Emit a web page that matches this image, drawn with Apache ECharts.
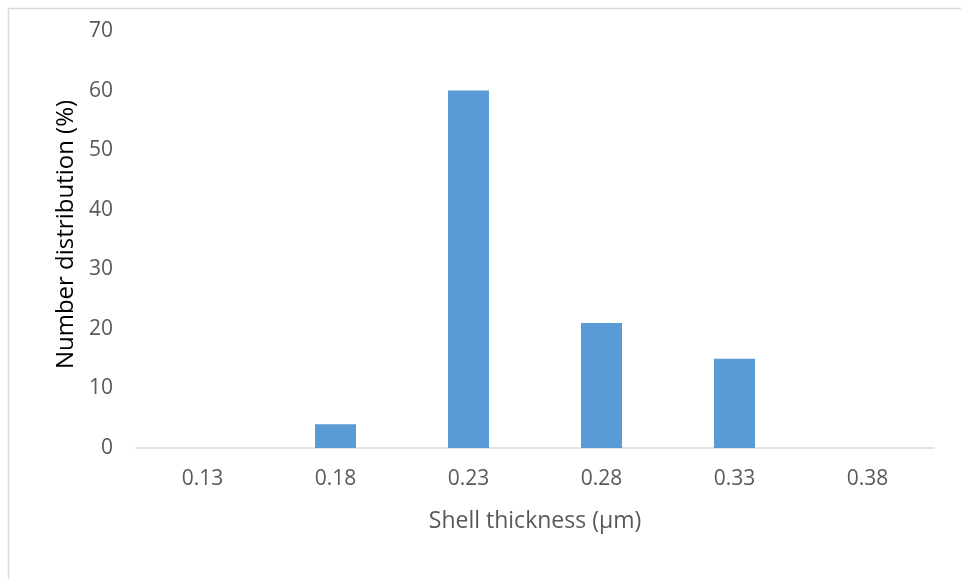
<!DOCTYPE html>
<html>
<head>
<meta charset="utf-8">
<script src="https://cdn.jsdelivr.net/npm/echarts@6/dist/echarts.min.js"></script>
<style>
  html, body { margin: 0; padding: 0; background: #fff; }
  #chart { width: 961px; height: 579px; }
</style>
</head>
<body>
<div id="chart"></div>
<script>
// Shell thickness bins and their share of the population
const categories = ['0.13', '0.18', '0.23', '0.28', '0.33', '0.38'];
const distribution = [0, 4, 60, 21, 15, 0];
const yTicks = { min: 0, max: 70, step: 10 };

const font = '"Open Sans", "Liberation Sans", sans-serif';
const chart = echarts.init(document.getElementById('chart'), null, { renderer: 'canvas' });

chart.setOption({
  animation: false,
  backgroundColor: '#ffffff',
  graphic: [{
    type: 'rect',
    shape: { x: 8.5, y: 8.5, width: 1200, height: 1200 },
    style: { fill: 'none', stroke: '#d9d9d9', lineWidth: 1.5 },
    silent: true
  }],
  grid: { left: 136, right: 27, top: 31, bottom: 131, containLabel: false },
  xAxis: {
    type: 'category',
    data: categories,
    name: 'Shell thickness (µm)',
    nameLocation: 'middle',
    nameGap: 62,
    nameTextStyle: { fontFamily: font, fontSize: 23, color: '#595959' },
    axisLine: { show: true, lineStyle: { color: '#d9d9d9', width: 1.5 } },
    axisTick: { show: false },
    axisLabel: { fontFamily: font, fontSize: 21, color: '#595959', margin: 21 }
  },
  yAxis: {
    type: 'value',
    min: yTicks.min,
    max: yTicks.max,
    interval: yTicks.step,
    name: 'Number distribution (%)',
    nameLocation: 'middle',
    nameGap: 52,
    nameTextStyle: { fontFamily: font, fontSize: 24, color: '#000000', padding: [0, 0, 0, 10] },
    axisLine: { show: false },
    axisTick: { show: false },
    splitLine: { show: false },
    axisLabel: { fontFamily: font, fontSize: 21, color: '#595959', margin: 23 }
  },
  series: [{
    type: 'bar',
    data: distribution,
    barWidth: 41,
    itemStyle: { color: '#5b9bd5' }
  }]
});
</script>
</body>
</html>
